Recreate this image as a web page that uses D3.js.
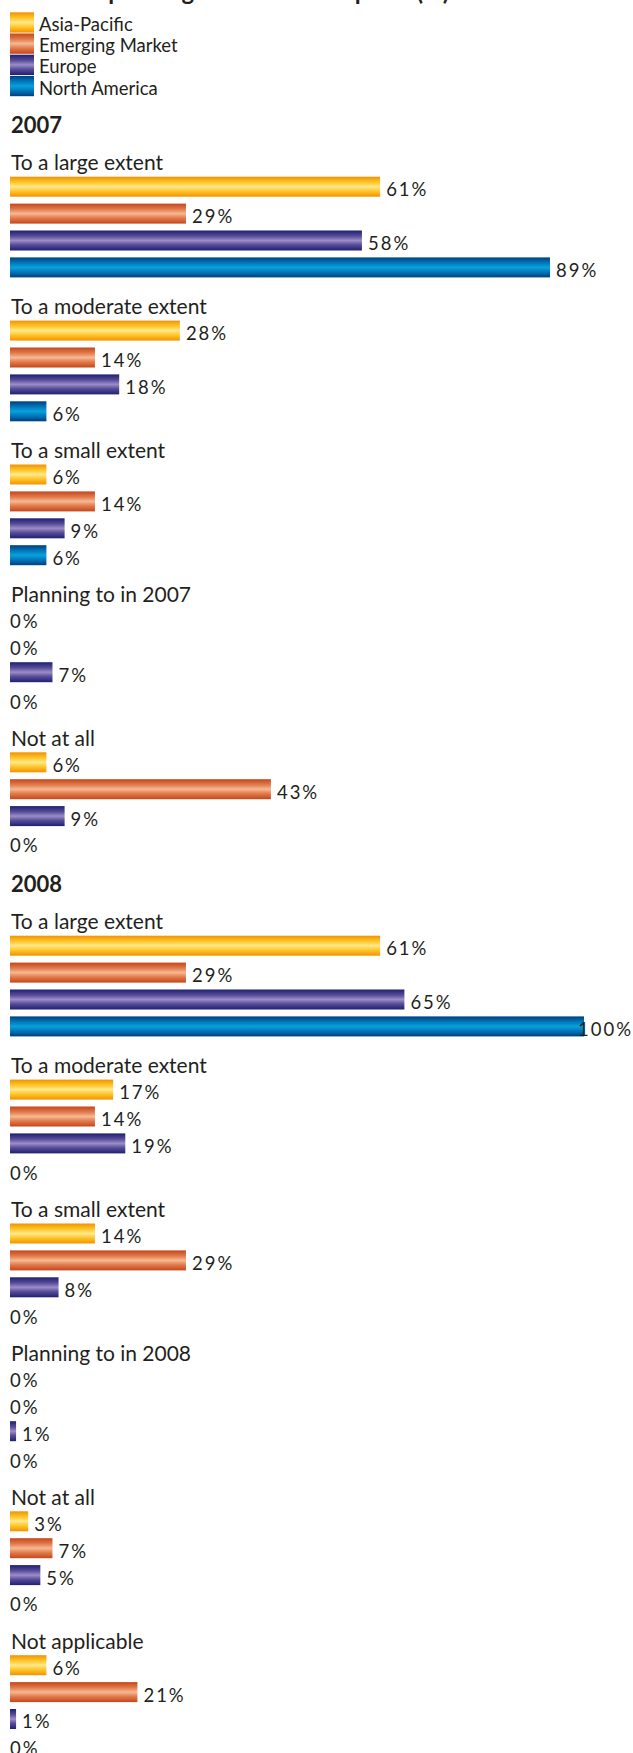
<!DOCTYPE html>
<html>
<head>
<meta charset="utf-8">
<script src="https://cdn.jsdelivr.net/npm/d3@7"></script>
<style>
  html, body { margin: 0; padding: 0; background: #fff; overflow: hidden; }
  svg { display: block; font-family: Lato, "Open Sans", sans-serif; }
</style>
</head>
<body>
<svg id="chart" width="633" height="1753"></svg>
<script>
// chart data
const chartTitle = "Current spending on IT offshore plans (%)";
const regions = ["Asia-Pacific", "Emerging Market", "Europe", "North America"];
const years = ["2007", "2008"];

const categories2007 = ["To a large extent", "To a moderate extent", "To a small extent", "Planning to in 2007", "Not at all"];
const values2007 = [
  [61, 29, 58, 89],
  [28, 14, 18, 6],
  [6, 14, 9, 6],
  [0, 0, 7, 0],
  [6, 43, 9, 0]
];

const categories2008 = ["To a large extent", "To a moderate extent", "To a small extent", "Planning to in 2008", "Not at all", "Not applicable"];
const values2008 = [
  [61, 29, 65, 100],
  [17, 14, 19, 0],
  [14, 29, 8, 0],
  [0, 0, 1, 0],
  [3, 7, 5, 0],
  [6, 21, 1, 0]
];

// bar gradients: edge -> light centre -> edge
const palette = [
  ["#f29200", "#ffc62a", "#ffe98c"],
  ["#c4461a", "#e17b4d", "#f7b892"],
  ["#1f1f72", "#574c98", "#9b8ec7"],
  ["#003f7e", "#0079bb", "#0aa0dc"]
];

const W = 633;
const ink = "#231f20";
const svg = d3.select("#chart");
const defs = svg.append("defs");

palette.forEach((c, i) => {
  const grad = defs.append("linearGradient")
    .attr("id", "grad" + i)
    .attr("x1", 0).attr("y1", 0).attr("x2", 0).attr("y2", 1);
  [[0, c[0]], [0.28, c[1]], [0.5, c[2]], [0.72, c[1]], [1, c[0]]].forEach(s => {
    grad.append("stop").attr("offset", s[0]).attr("stop-color", s[1]);
  });
});

// 100% is squeezed in the original, so clamp the scale at the page edge
const x = d3.scaleLinear().domain([0, 94.6]).range([10, 584]).clamp(true);
const y = d3.scaleBand().domain(regions).range([0, 100.7]).paddingInner(0.2565);

// title (cropped off at the top, only descenders show)
svg.append("text")
  .attr("x", 10)
  .attr("y", 0)
  .attr("font-size", 24)
  .attr("font-weight", "bold")
  .attr("fill", ink)
  .text(chartTitle);

// legend
const legend = svg.append("g");
regions.forEach((r, i) => {
  legend.append("rect")
    .attr("x", 10)
    .attr("y", 12.3 + i * 21.2)
    .attr("width", 24)
    .attr("height", 20.3)
    .attr("fill", "url(#grad" + i + ")");
  legend.append("text")
    .attr("x", 39)
    .attr("y", 31 + i * 21.2)
    .attr("font-size", 18.5)
    .attr("fill", ink)
    .text(r);
});

const sections = [
  { year: years[0], cats: categories2007, vals: values2007 },
  { year: years[1], cats: categories2008, vals: values2008 }
];

const groupStep = 143.9;
let base = 133;

sections.forEach(s => {
  svg.append("text")
    .attr("x", 11)
    .attr("y", base)
    .attr("font-size", 22)
    .attr("font-weight", "bold")
    .attr("fill", ink)
    .text(s.year);

  s.cats.forEach((cat, gi) => {
    const ly = base + 37 + gi * groupStep;
    svg.append("text")
      .attr("x", 11)
      .attr("y", ly)
      .attr("font-size", 21)
      .attr("fill", ink)
      .text(cat);

    const rows = regions.map((r, k) => ({ r: r, k: k, v: s.vals[gi][k] }));
    const g = svg.append("g").attr("transform", "translate(0," + (ly + 6.7) + ")");

    g.selectAll("rect")
      .data(rows.filter(d => d.v > 0))
      .join("rect")
        .attr("x", x(0))
        .attr("y", d => y(d.r))
        .attr("width", d => x(d.v) - x(0))
        .attr("height", y.bandwidth())
        .attr("fill", d => "url(#grad" + d.k + ")");

    g.selectAll("text")
      .data(rows)
      .join("text")
        .attr("x", d => d.v > 0 ? x(d.v) + 6 : x(0))
        .attr("y", d => y(d.r) + y.bandwidth() - 0.5)
        .attr("font-size", 18.5)
        .attr("letter-spacing", 2)
        .attr("fill", ink)
        .text(d => d.v + "%")
        .each(function () {
          const t = d3.select(this);
          const w = this.getComputedTextLength();
          if (+t.attr("x") + w > W) t.attr("x", W - w);
        });
  });

  base = base + 37 + (s.cats.length - 1) * groupStep + 146.4;
});
</script>
</body>
</html>
